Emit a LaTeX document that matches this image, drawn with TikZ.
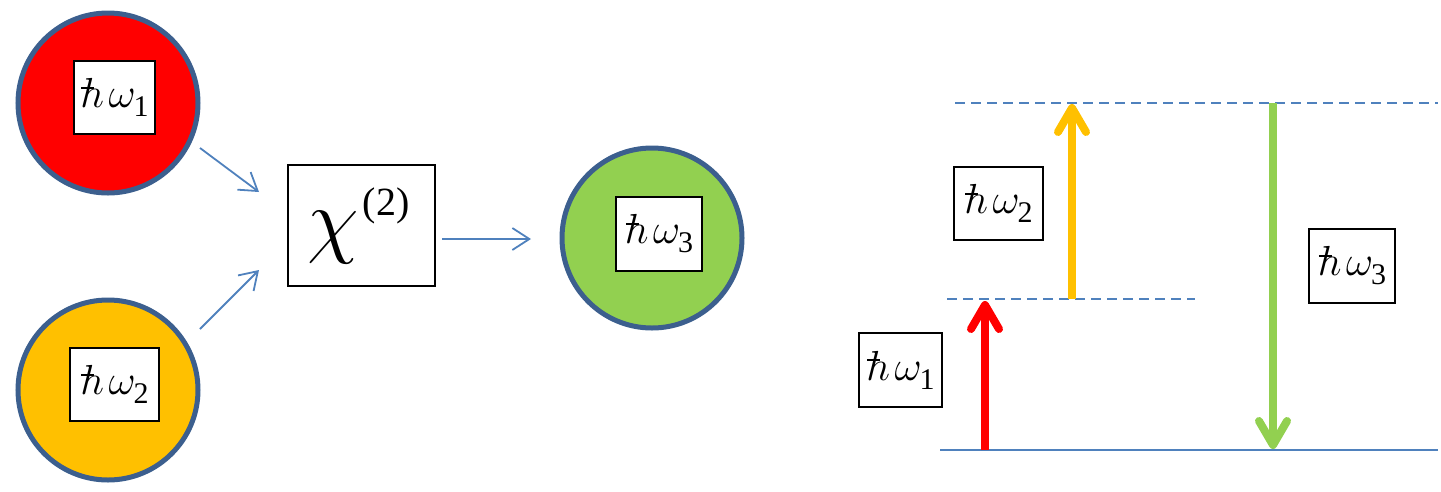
\RequirePackage{fix-cm}
\documentclass[tikz,border=0pt]{standalone}
\usepackage[no-math]{fontspec}
\setmainfont{Liberation Serif}
\usetikzlibrary{arrows.meta}
\definecolor{cred}{HTML}{FF0000}
\definecolor{corange}{HTML}{FFC000}
\definecolor{cgreen}{HTML}{92D050}
\definecolor{cedge}{HTML}{3C5F8E}
\definecolor{cblue}{HTML}{4F81BD}
\newcommand{\barh}{\makebox[0pt][l]{\kern1pt\raisebox{19pt}{\rule{13pt}{1.8pt}}}$h$}
\newcommand{\hwlab}[1]{{\fontsize{42}{42}\selectfont\barh$\mkern2mu\omega$}\kern-2pt\raisebox{-9pt}{\fontsize{30}{30}\selectfont #1}}
\begin{document}
\begin{tikzpicture}[x=1pt,y=-1pt,
  ball/.style={circle, draw=cedge, line width=5pt, minimum size=180pt, inner sep=0pt},
  lab/.style={draw=black, line width=2pt, fill=white, inner sep=0pt, align=center},
  thin/.style={draw=cblue, line width=1.8pt, -{Straight Barb[length=17pt,width=22pt]}},
  thick/.style={line width=8pt, -{Straight Barb[length=24pt,width=28pt,round]}},
  level/.style={draw=cblue, line width=2pt},
  dlevel/.style={draw=cblue, line width=2pt, dash pattern=on 10pt off 6pt}]
\useasboundingbox (0,0) rectangle (1441,491);
% circles
\node[ball, fill=cred] (red) at (108,103) {};
\node[ball, fill=corange] (orange) at (108,390) {};
\node[ball, fill=cgreen] (green) at (652,238) {};
\node[lab, minimum width=81pt, minimum height=73pt] (l1) at (114.5,97.5) {\hwlab{1}};
\node[lab, minimum width=89pt, minimum height=73pt] (l2) at (114.5,384.5) {\hwlab{2}};
\node[lab, minimum width=86pt, minimum height=74pt] (l3) at (659,234) {\hwlab{3}};
% chi box
\node[lab, minimum width=147pt, minimum height=121pt] (chi) at (361.5,225.5)
  {\kern-6pt{\fontsize{84}{84}\selectfont$\chi$}\kern4pt\raisebox{32pt}{\fontsize{40}{40}\selectfont (2)}};
% thin arrows
\coordinate (a1) at (200,148); \coordinate (a2) at (259,192);
\coordinate (b1) at (200,329); \coordinate (b2) at (259,270);
\coordinate (c1) at (442,239); \coordinate (c2) at (531,239);
\draw[thin] (a1) -- (a2);
\draw[thin] (b1) -- (b2);
\draw[thin] (c1) -- (c2);
% energy levels
\coordinate (g0) at (940,450); \coordinate (g1) at (1438,450);
\coordinate (m0) at (947,299); \coordinate (m1) at (1195,299);
\coordinate (t0) at (955,103); \coordinate (t1) at (1438,103);
\draw[level] (g0) -- (g1);
\draw[dlevel] (m0) -- (m1);
\draw[dlevel] (t0) -- (t1);
% transition arrows
\coordinate (ra) at (985,450); \coordinate (rb) at (985,301);
\coordinate (oa) at (1072,299); \coordinate (ob) at (1072,104);
\coordinate (ga) at (1273,103); \coordinate (gb) at (1273,449);
\draw[thick, draw=cred] (ra) -- (rb);
\draw[thick, draw=corange] (oa) -- (ob);
\draw[thick, draw=cgreen] (ga) -- (gb);
% labels
\node[lab, minimum width=83pt, minimum height=74pt] (r1) at (900.5,370) {\hwlab{1}};
\node[lab, minimum width=89pt, minimum height=73pt] (r2) at (998.5,203.5) {\hwlab{2}};
\node[lab, minimum width=86pt, minimum height=74pt] (r3) at (1352,266) {\hwlab{3}};
\end{tikzpicture}
\end{document}
